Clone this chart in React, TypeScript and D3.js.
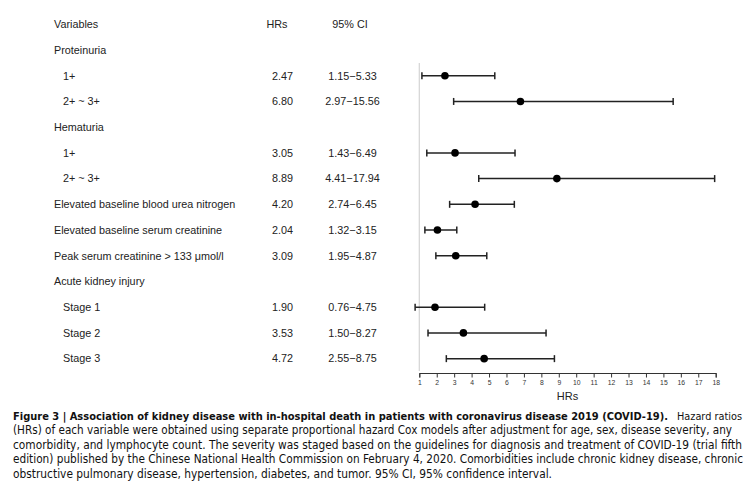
import * as React from 'react';
import * as d3 from 'd3';

// rows of the forest plot (null = group header, no estimate)
const labels = ['Proteinuria', '1+', '2+ ~ 3+', 'Hematuria', '1+', '2+ ~ 3+',
    'Elevated baseline blood urea nitrogen', 'Elevated baseline serum creatinine',
    'Peak serum creatinine > 133 μmol/l', 'Acute kidney injury', 'Stage 1', 'Stage 2', 'Stage 3'];
const indented = [false, true, true, false, true, true, false, false, false, false, true, true, true];
const hrs = [null, 2.47, 6.80, null, 3.05, 8.89, 4.20, 2.04, 3.09, null, 1.90, 3.53, 4.72];
const lower = [null, 1.15, 2.97, null, 1.43, 4.41, 2.74, 1.32, 1.95, null, 0.76, 1.50, 2.55];
const upper = [null, 5.33, 15.56, null, 6.49, 17.94, 6.45, 3.15, 4.87, null, 4.75, 8.27, 8.75];
const xTicks = d3.range(1, 19);

const captionBold = 'Figure 3 | Association of kidney disease with in-hospital death in patients with coronavirus disease 2019 (COVID-19).';
const captionLines = [
    'Hazard ratios',
    '(HRs) of each variable were obtained using separate proportional hazard Cox models after adjustment for age, sex, disease severity, any',
    'comorbidity, and lymphocyte count. The severity was staged based on the guidelines for diagnosis and treatment of COVID-19 (trial fifth',
    'edition) published by the Chinese National Health Commission on February 4, 2020. Comorbidities include chronic kidney disease, chronic',
    'obstructive pulmonary disease, hypertension, diabetes, and tumor. 95% CI, 95% confidence interval.'
];

const W = 756, H = 483;
const font = '"Liberation Sans", Arial, sans-serif';
const capFont = '"Liberation Sans Narrow", "DejaVu Sans Condensed", "Liberation Sans", sans-serif';

// shrink font until natural width fits, then stretch to exact width
function fitText(sel, width) {
    let size = 11.5;
    sel.style('font-size', size + 'px');
    const natural = sel.node().getComputedTextLength();
    if (natural > width) {
        size = size * width / natural - 0.05;
        sel.style('font-size', size + 'px');
    }
    sel.attr('textLength', width).attr('lengthAdjust', 'spacingAndGlyphs');
}

export default function App() {
    const ref = React.useRef<SVGSVGElement>(null);

    React.useEffect(() => {
        const svg = d3.select(ref.current);
        svg.selectAll('*').remove();

        const x = d3.scaleLinear().domain([1, 18]).range([419.3, 715.7]);
        const y = (i) => 50 + i * 25.72;
        const axisY = 373;

        // header
        const head = svg.append('g').style('font-family', font).style('font-size', '10.8px').attr('fill', '#222');
        head.append('text').attr('x', 54).attr('y', 28).text('Variables');
        head.append('text').attr('x', 277).attr('y', 28).attr('text-anchor', 'middle').text('HRs');
        head.append('text').attr('x', 350).attr('y', 28).attr('text-anchor', 'middle').text('95% CI');

        const rows = svg.append('g').style('font-family', font).style('font-size', '10.8px').attr('fill', '#222');
        labels.forEach((lab, i) => {
            rows.append('text').attr('x', indented[i] ? 63 : 54).attr('y', y(i) + 3.8).text(lab);
            if (hrs[i] != null) {
                rows.append('text').attr('x', 282.5).attr('y', y(i) + 3.8).attr('text-anchor', 'middle').text(hrs[i].toFixed(2));
                rows.append('text').attr('x', 352.5).attr('y', y(i) + 3.8).attr('text-anchor', 'middle')
                    .text(lower[i].toFixed(2) + '\u2212' + upper[i].toFixed(2));
            }
        });

        // reference line at HR = 1
        svg.append('line')
            .attr('x1', x(1)).attr('x2', x(1))
            .attr('y1', 63).attr('y2', 371)
            .attr('stroke', '#d4d4d4').attr('stroke-width', 1.2);

        const plot = svg.append('g');
        labels.forEach((lab, i) => {
            if (hrs[i] == null) return;
            const yy = y(i);
            plot.append('line').attr('x1', x(lower[i])).attr('x2', x(upper[i])).attr('y1', yy).attr('y2', yy)
                .attr('stroke', '#222').attr('stroke-width', 1.5);
            [lower[i], upper[i]].forEach(v => {
                plot.append('line').attr('x1', x(v)).attr('x2', x(v)).attr('y1', yy - 3.5).attr('y2', yy + 3.5)
                    .attr('stroke', '#222').attr('stroke-width', 1.5);
            });
            plot.append('circle').attr('cx', x(hrs[i])).attr('cy', yy).attr('r', 3.8).attr('fill', '#000');
        });

        // x axis
        const axis = svg.append('g')
            .attr('transform', 'translate(0,' + axisY + ')')
            .call(d3.axisBottom(x).tickValues(xTicks).tickSize(4.5).tickPadding(3).tickFormat(d3.format('d')));
        axis.select('.domain').attr('stroke', '#333').attr('stroke-width', 1);
        axis.selectAll('.tick line').attr('stroke', '#333');
        axis.selectAll('.tick text').style('font-family', font).style('font-size', '6.8px').attr('fill', '#333');
        svg.append('text')
            .attr('x', (x(1) + x(18)) / 2).attr('y', 400)
            .attr('text-anchor', 'middle')
            .style('font-family', font).style('font-size', '11px').attr('fill', '#222')
            .text('HRs');

        // caption
        const cap = svg.append('g').style('font-family', capFont).attr('fill', '#111');
        fitText(cap.append('text').attr('x', 13).attr('y', 419.5).attr('font-weight', 'bold').text(captionBold), 655);
        fitText(cap.append('text').attr('x', 677).attr('y', 419.5).text(captionLines[0]), 65);
        const ends = [732, 742, 743, 552];
        captionLines.slice(1).forEach((ln, i) => {
            fitText(cap.append('text').attr('x', 13).attr('y', 419.5 + (i + 1) * 14.6).text(ln), ends[i] - 13);
        });
    }, []);

    return (
        <svg ref={ref} width={W} height={H}
            style={{ position: 'fixed', left: 0, top: 0, display: 'block', background: '#fff' }} />
    );
}
